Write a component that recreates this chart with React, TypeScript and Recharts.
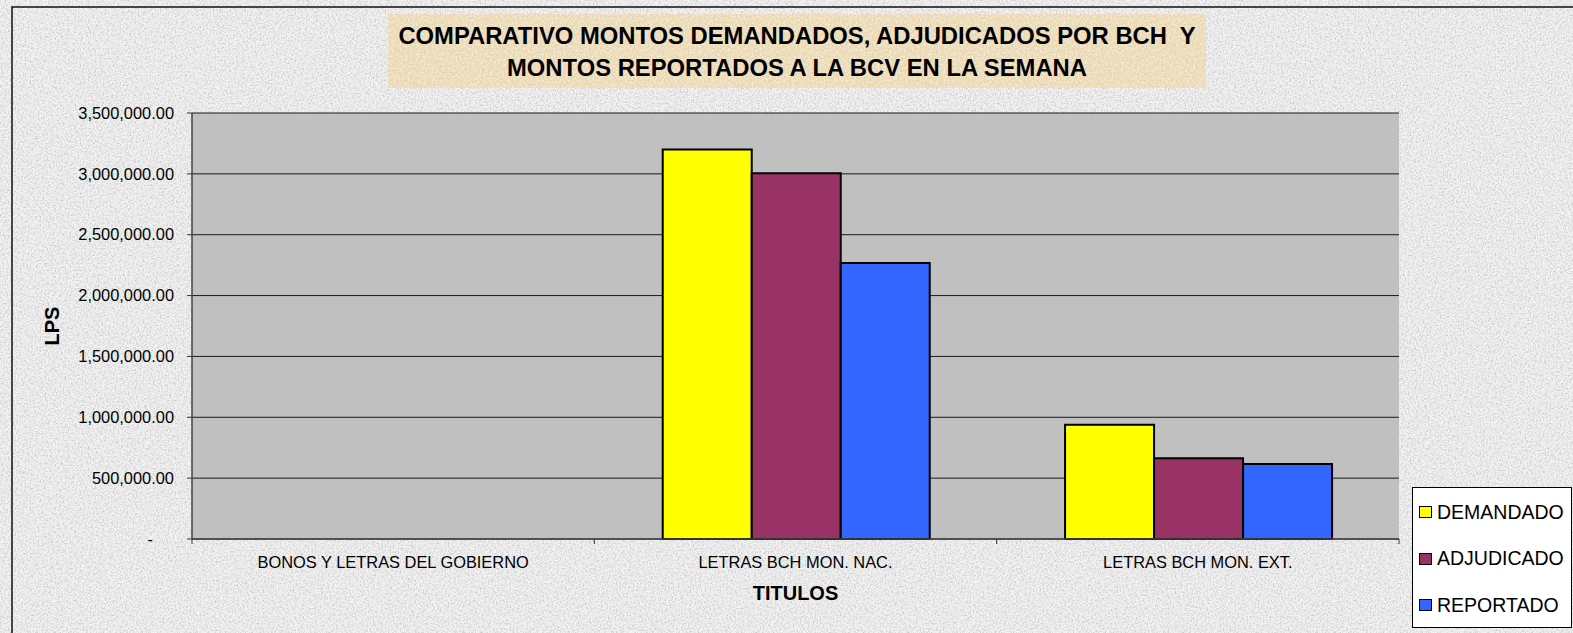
import { BarChart, Bar, XAxis, YAxis, CartesianGrid, Legend } from "recharts";

// values (Lps)
const categories = ["BONOS Y LETRAS DEL GOBIERNO", "LETRAS BCH MON. NAC.", "LETRAS BCH MON. EXT."];
const demandado = [0, 3200000, 938000];
const adjudicado = [0, 3005000, 664000];
const reportado = [0, 2268000, 617000];
const yTicks = [0, 500000, 1000000, 1500000, 2000000, 2500000, 3000000, 3500000];
const seriesKeys = ["demandado", "adjudicado", "reportado"];
const seriesNames = ["DEMANDADO", "ADJUDICADO", "REPORTADO"];
const seriesColors = ["#ffff00", "#993366", "#3366ff"];
const titleLines = ["COMPARATIVO MONTOS DEMANDADOS, ADJUDICADOS POR BCH  Y", "MONTOS REPORTADOS A LA BCV EN LA SEMANA"];

const W = 1573;
const H = 633;
const FONT = "'Liberation Sans', Arial, sans-serif";
const MARGIN = { top: 113, right: 14, left: 0, bottom: 0 };
const Y_AXIS_W = 192;
const X_AXIS_H = 94;
const LEGEND_W = 160;
const PLOT_W = W - MARGIN.left - Y_AXIS_W - MARGIN.right - LEGEND_W;
const CAT_W = PLOT_W / categories.length;

const data = categories.map((name, i) => ({
  name,
  demandado: demandado[i],
  adjudicado: adjudicado[i],
  reportado: reportado[i],
}));

const fmt = (v: number) =>
  v === 0 ? "-" : v.toLocaleString("en-US", { minimumFractionDigits: 2, maximumFractionDigits: 2 });

function YTick({ x, y, payload }: any) {
  const zero = payload.value === 0;
  return (
    <text x={zero ? x - 21 : x} y={y} dy="0.35em" textAnchor="end" fontSize={16.4} fontFamily={FONT} fill="#000">
      {fmt(payload.value)}
    </text>
  );
}

function XTick({ x, y, payload, index }: any) {
  const axisY = y - 17;
  const left = x - CAT_W / 2;
  const right = x + CAT_W / 2;
  return (
    <g>
      <line x1={left} x2={left} y1={axisY} y2={axisY + 5} stroke="#333" />
      {index === categories.length - 1 && <line x1={right} x2={right} y1={axisY} y2={axisY + 5} stroke="#333" />}
      <text x={x} y={y} dy="0.71em" textAnchor="middle" fontSize={16.4} fontFamily={FONT} fill="#000">
        {payload.value}
      </text>
    </g>
  );
}

function LegendBox() {
  return (
    <div
      style={{
        width: LEGEND_W,
        height: 141,
        boxSizing: "border-box",
        background: "#fff",
        border: "1px solid #000",
        fontFamily: FONT,
        fontSize: 19.5,
        color: "#000",
        paddingTop: 1,
      }}
    >
      {seriesNames.map((n, i) => (
        <div key={n} style={{ display: "flex", alignItems: "center", height: 46.5, paddingLeft: 6 }}>
          <span
            style={{
              display: "inline-block",
              width: 13,
              height: 12,
              boxSizing: "border-box",
              background: seriesColors[i],
              border: "1.5px solid #000",
              marginRight: 5,
            }}
          />
          {n}
        </div>
      ))}
    </div>
  );
}

function Backdrop() {
  return (
    <svg width={W} height={H} style={{ position: "absolute", left: 0, top: 0 }}>
      <defs>
        <filter id="grain" x="0" y="0" width="100%" height="100%">
          <feTurbulence type="fractalNoise" baseFrequency="0.6" numOctaves="3" seed="4" />
          <feColorMatrix type="matrix" values="0 0 0 0 0.45  0 0 0 0 0.45  0 0 0 0 0.45  1.5 0 0 0 -0.62" />
        </filter>
        <filter id="grainTan" x="0" y="0" width="100%" height="100%">
          <feTurbulence type="fractalNoise" baseFrequency="0.5" numOctaves="3" seed="9" />
          <feColorMatrix type="matrix" values="0 0 0 0 1  0 0 0 0 0.97  0 0 0 0 0.88  1.4 0 0 0 -0.5" />
        </filter>
      </defs>
      <rect x={0} y={0} width={W} height={H} fill="#f2f2f2" />
      <rect x={0} y={0} width={W} height={H} filter="url(#grain)" />
      <rect x={388} y={14} width={818} height={74} fill="#e8d6b0" />
      <rect x={388} y={14} width={818} height={74} filter="url(#grainTan)" />
      <rect x={12} y={7} width={W + 20} height={H + 20} fill="none" stroke="#111" strokeWidth={1.5} />
      {titleLines.map((t, i) => (
        <text
          key={i}
          x={797}
          y={44 + i * 32}
          textAnchor="middle"
          fontFamily={FONT}
          fontWeight="bold"
          fontSize={23.8}
          fill="#000"
          style={{ whiteSpace: "pre" }}
        >
          {t}
        </text>
      ))}
    </svg>
  );
}

export default function App() {
  return (
    <div style={{ position: "fixed", left: 0, top: 0, width: W, height: H, overflow: "hidden" }}>
      <Backdrop />
      <div style={{ position: "absolute", left: 0, top: 0 }}>
        <BarChart width={W} height={H} data={data} margin={MARGIN} barCategoryGap="17%" barGap={0}>
          <CartesianGrid vertical={false} fill="#c0c0c0" stroke="#1a1a1a" strokeOpacity={1} />
          <XAxis
            dataKey="name"
            height={X_AXIS_H}
            axisLine={{ stroke: "#444", strokeWidth: 1.5 }}
            tickLine={false}
            tickSize={0}
            tickMargin={17}
            tick={<XTick />}
            interval={0}
            label={{
              value: "TITULOS",
              position: "insideBottom",
              offset: 33,
              fontSize: 20,
              fontWeight: "bold",
              fontFamily: FONT,
              fill: "#000",
            }}
          />
          <YAxis
            width={Y_AXIS_W}
            domain={[0, 3500000]}
            ticks={yTicks}
            interval={0}
            axisLine={{ stroke: "#444", strokeWidth: 1.5 }}
            tickLine={{ stroke: "#333" }}
            tickSize={5}
            tickMargin={13}
            tick={<YTick />}
            label={{
              value: "LPS",
              angle: -90,
              position: "insideLeft",
              offset: 52,
              fontSize: 20,
              fontWeight: "bold",
              fontFamily: FONT,
              fill: "#000",
              style: { textAnchor: "middle" },
            }}
          />
          <YAxis
            yAxisId="frame"
            orientation="right"
            width={0}
            tick={false}
            tickLine={false}
            axisLine={{ stroke: "#808080", strokeWidth: 1.5 }}
          />
          <Legend
            layout="vertical"
            align="right"
            verticalAlign="bottom"
            content={<LegendBox />}
            wrapperStyle={{ left: 1412, top: 487, width: LEGEND_W, height: 141 }}
          />
          {seriesKeys.map((k, i) => (
            <Bar
              key={k}
              dataKey={k}
              name={seriesNames[i]}
              fill={seriesColors[i]}
              stroke="#000"
              strokeWidth={2}
              isAnimationActive={false}
            />
          ))}
        </BarChart>
      </div>
    </div>
  );
}
